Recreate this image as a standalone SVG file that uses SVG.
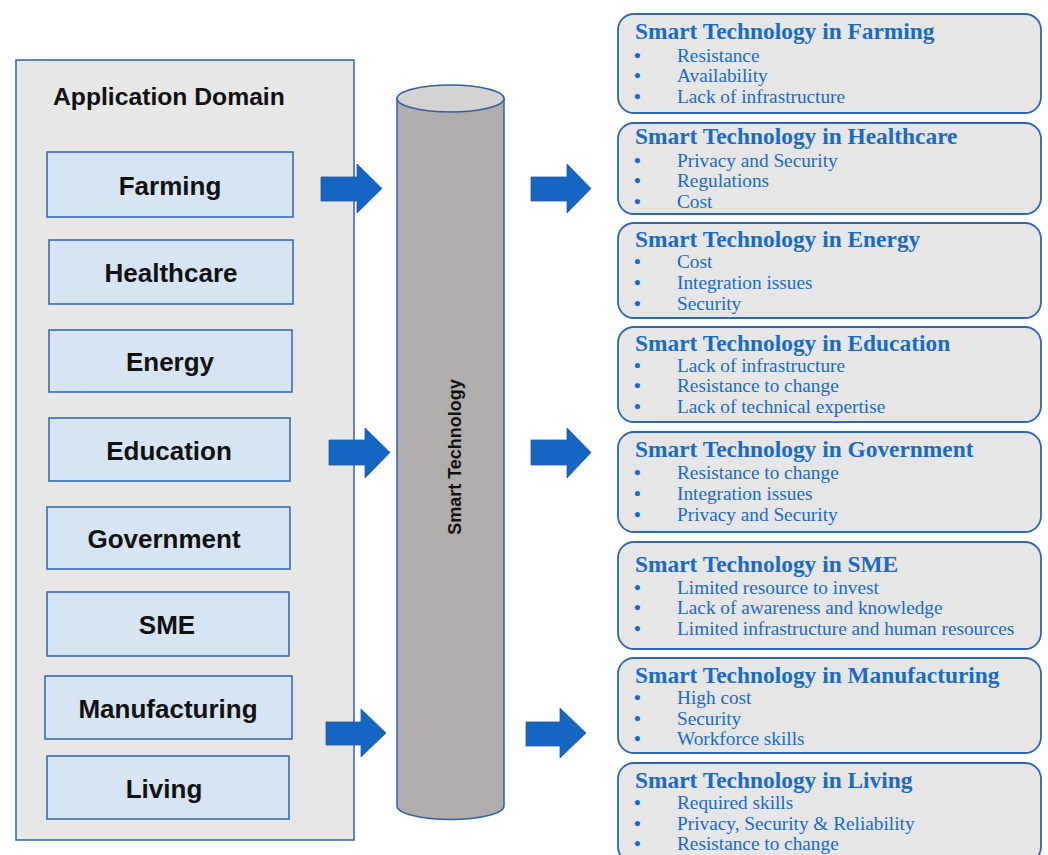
<svg xmlns="http://www.w3.org/2000/svg" width="1048" height="855" viewBox="0 0 1048 855">
<style>
.outer{fill:#E7E7E7;stroke:#2F62A3;stroke-width:1.5}
.dom{fill:#D6E4F4;stroke:#2F66AE;stroke-width:1.5}
.dt{font-family:"Liberation Sans",Arial,sans-serif;font-weight:bold;font-size:26px;fill:#111;text-anchor:middle}
.ch{fill:#E6E6E6;stroke:#2F66AE;stroke-width:1.8}
.ct{font-family:"Liberation Serif","Times New Roman",serif;font-weight:bold;font-size:23.4px;fill:#1A6BC4}
.ci{font-family:"Liberation Serif","Times New Roman",serif;font-size:19.3px;fill:#1A6BC4}
.bu{font-weight:bold}
.arr{fill:#1466C2;stroke:#2A5A99;stroke-width:0.8}
.cyl{fill:#B2ADAD;stroke:#2F62A3;stroke-width:1.5}
.cyltop{fill:#D4D3D3;stroke:#2F62A3;stroke-width:1.5}
</style>
<rect width="1048" height="855" fill="#FFFFFF"/>
<g id="application-domain">
<rect class="outer" x="16" y="60" width="338" height="780"/>
<text x="53" y="105" font-family="Liberation Sans,Arial,sans-serif" font-weight="bold" font-size="24.7px" fill="#111">Application Domain</text>
</g>
<g id="farming"><rect class="dom" x="47" y="152" width="246" height="65"/><text class="dt" x="170" y="195">Farming</text></g>
<g id="healthcare"><rect class="dom" x="49" y="240" width="244" height="64"/><text class="dt" x="171" y="282">Healthcare</text></g>
<g id="energy"><rect class="dom" x="49" y="330" width="243" height="62"/><text class="dt" x="170" y="371">Energy</text></g>
<g id="education"><rect class="dom" x="49" y="418" width="241" height="63"/><text class="dt" x="169" y="460">Education</text></g>
<g id="government"><rect class="dom" x="47" y="507" width="243" height="62"/><text class="dt" x="164" y="548">Government</text></g>
<g id="sme"><rect class="dom" x="47" y="592" width="242" height="64"/><text class="dt" x="167" y="634">SME</text></g>
<g id="manufacturing"><rect class="dom" x="45" y="676" width="247" height="63"/><text class="dt" x="168" y="718">Manufacturing</text></g>
<g id="living"><rect class="dom" x="47" y="756" width="242" height="63"/><text class="dt" x="164" y="798">Living</text></g>

<g id="smart-technology">
<path class="cyl" d="M397,98.5 L397,806 A53.5,13.5 0 0 0 504,806 L504,98.5 Z"/>
<ellipse class="cyltop" cx="450.5" cy="98.5" rx="53.5" ry="13.5"/>
<text transform="translate(461,457) rotate(-90)" text-anchor="middle" font-family="Liberation Sans,Arial,sans-serif" font-weight="bold" font-size="18px" fill="#111">Smart Technology</text>
</g>

<g id="connectors">
<path class="arr" d="M321,177 L357,177 L357,164 L382,188.5 L357,213 L357,201 L321,201 Z"/>
<path class="arr" d="M329,440 L365,440 L365,428 L390,452.5 L365,478 L365,465 L329,465 Z"/>
<path class="arr" d="M326,722 L361,722 L361,709 L386,733 L361,757 L361,745 L326,745 Z"/>
<path class="arr" d="M531,177 L567,177 L567,164 L591,188.5 L567,213 L567,201 L531,201 Z"/>
<path class="arr" d="M531,440 L567,440 L567,428 L591,452.5 L567,478 L567,465 L531,465 Z"/>
<path class="arr" d="M526,722 L560,722 L560,708 L586,733 L560,758 L560,746 L526,746 Z"/>
</g>

<g id="st-farming">
<rect class="ch" x="618" y="14" width="423" height="99" rx="16"/>
<text class="ct" x="635" y="39">Smart Technology in Farming</text>
<text class="ci" y="62"><tspan class="bu" x="634">•</tspan><tspan x="677">Resistance</tspan></text>
<text class="ci" y="82"><tspan class="bu" x="634">•</tspan><tspan x="677">Availability</tspan></text>
<text class="ci" y="103"><tspan class="bu" x="634">•</tspan><tspan x="677">Lack of infrastructure</tspan></text>
</g>
<g id="st-healthcare">
<rect class="ch" x="618" y="123" width="423" height="91" rx="16"/>
<text class="ct" x="635" y="144">Smart Technology in Healthcare</text>
<text class="ci" y="167"><tspan class="bu" x="634">•</tspan><tspan x="677">Privacy and Security</tspan></text>
<text class="ci" y="187"><tspan class="bu" x="634">•</tspan><tspan x="677">Regulations</tspan></text>
<text class="ci" y="208"><tspan class="bu" x="634">•</tspan><tspan x="677">Cost</tspan></text>
</g>
<g id="st-energy">
<rect class="ch" x="618" y="223" width="423" height="95" rx="16"/>
<text class="ct" x="635" y="247">Smart Technology in Energy</text>
<text class="ci" y="268"><tspan class="bu" x="634">•</tspan><tspan x="677">Cost</tspan></text>
<text class="ci" y="289"><tspan class="bu" x="634">•</tspan><tspan x="677">Integration issues</tspan></text>
<text class="ci" y="310"><tspan class="bu" x="634">•</tspan><tspan x="677">Security</tspan></text>
</g>
<g id="st-education">
<rect class="ch" x="618" y="327" width="423" height="95" rx="16"/>
<text class="ct" x="635" y="351">Smart Technology in Education</text>
<text class="ci" y="372"><tspan class="bu" x="634">•</tspan><tspan x="677">Lack of infrastructure</tspan></text>
<text class="ci" y="392"><tspan class="bu" x="634">•</tspan><tspan x="677">Resistance to change</tspan></text>
<text class="ci" y="413"><tspan class="bu" x="634">•</tspan><tspan x="677">Lack of technical expertise</tspan></text>
</g>
<g id="st-government">
<rect class="ch" x="618" y="432" width="423" height="100" rx="16"/>
<text class="ct" x="635" y="457">Smart Technology in Government</text>
<text class="ci" y="479"><tspan class="bu" x="634">•</tspan><tspan x="677">Resistance to change</tspan></text>
<text class="ci" y="500"><tspan class="bu" x="634">•</tspan><tspan x="677">Integration issues</tspan></text>
<text class="ci" y="521"><tspan class="bu" x="634">•</tspan><tspan x="677">Privacy and Security</tspan></text>
</g>
<g id="st-sme">
<rect class="ch" x="618" y="542" width="423" height="107" rx="16"/>
<text class="ct" x="635" y="572">Smart Technology in SME</text>
<text class="ci" y="594"><tspan class="bu" x="634">•</tspan><tspan x="677">Limited resource to invest</tspan></text>
<text class="ci" y="614"><tspan class="bu" x="634">•</tspan><tspan x="677">Lack of awareness and knowledge</tspan></text>
<text class="ci" y="635"><tspan class="bu" x="634">•</tspan><tspan x="677">Limited infrastructure and human resources</tspan></text>
</g>
<g id="st-manufacturing">
<rect class="ch" x="618" y="658" width="423" height="95" rx="16"/>
<text class="ct" x="635" y="683">Smart Technology in Manufacturing</text>
<text class="ci" y="704"><tspan class="bu" x="634">•</tspan><tspan x="677">High cost</tspan></text>
<text class="ci" y="725"><tspan class="bu" x="634">•</tspan><tspan x="677">Security</tspan></text>
<text class="ci" y="745"><tspan class="bu" x="634">•</tspan><tspan x="677">Workforce skills</tspan></text>
</g>
<g id="st-living">
<rect class="ch" x="618" y="763" width="423" height="100" rx="16"/>
<text class="ct" x="635" y="788">Smart Technology in Living</text>
<text class="ci" y="809"><tspan class="bu" x="634">•</tspan><tspan x="677">Required skills</tspan></text>
<text class="ci" y="830"><tspan class="bu" x="634">•</tspan><tspan x="677">Privacy, Security &amp; Reliability</tspan></text>
<text class="ci" y="850"><tspan class="bu" x="634">•</tspan><tspan x="677">Resistance to change</tspan></text>
</g>
</svg>
